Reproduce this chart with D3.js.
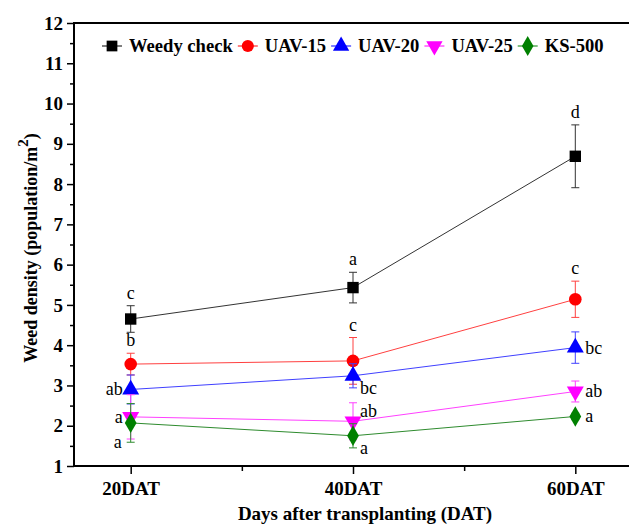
<!DOCTYPE html>
<html>
<head>
<meta charset="utf-8">
<script src="https://cdn.jsdelivr.net/npm/d3@7"></script>
<style>
  body { margin: 0; background: #fff; }
  svg { display: block; }
  text { font-family: "Liberation Serif", "Times New Roman", serif; }
</style>
</head>
<body>
<script>
// data
var days = ["20DAT", "40DAT", "60DAT"];
var seriesNames = ["Weedy check", "UAV-15", "UAV-20", "UAV-25", "KS-500"];
var weedyCheck = [4.65, 5.43, 8.69];
var uav15 = [3.53, 3.61, 5.14];
var uav20 = [2.90, 3.24, 3.94];
var uav25 = [2.22, 2.11, 2.85];
var ks500 = [2.07, 1.75, 2.23];
var weedyErr = [0.33, 0.38, 0.78];
var uav15Err = [0.27, 0.58, 0.45];
var uav20Err = [0.36, 0.30, 0.39];
var uav25Err = [0.55, 0.46, 0.26];
var ks500Err = [0.48, 0.30, 0.08];
var weedyLetters = ["c", "a", "d"];
var uav15Letters = ["b", "c", "c"];
var uav20Letters = ["ab", "bc", "bc"];
var uav25Letters = ["a", "ab", "ab"];
var ks500Letters = ["a", "a", "a"];
var yTicks = [1, 2, 3, 4, 5, 6, 7, 8, 9, 10, 11, 12];

// where each letter sits relative to its point
var letterPlace = [
  ["top", "top", "top"],
  ["top", "top", "top"],
  ["left", "rightLow", "right"],
  ["left", "rightHigh", "right"],
  ["leftLow", "rightLow", "right"]
];

var colors = ["#000000", "#ff0000", "#0000ff", "#ff00ff", "#008000"];
var lineColors = ["#333333", "#ff4040", "#4040ff", "#ff40ff", "#2e8b2e"];
var shapes = [d3.symbolSquare, d3.symbolCircle, d3.symbolTriangle, "down", d3.symbolDiamond];

var series = [
  {name: seriesNames[0], vals: weedyCheck, err: weedyErr, letters: weedyLetters},
  {name: seriesNames[1], vals: uav15, err: uav15Err, letters: uav15Letters},
  {name: seriesNames[2], vals: uav20, err: uav20Err, letters: uav20Letters},
  {name: seriesNames[3], vals: uav25, err: uav25Err, letters: uav25Letters},
  {name: seriesNames[4], vals: ks500, err: ks500Err, letters: ks500Letters}
];

var width = 629, height = 524;
var pLeft = 74, pTop = 23, pRight = 632, pBottom = 466;

var svg = d3.select("body").append("svg")
  .attr("width", width)
  .attr("height", height);

var x = d3.scalePoint()
  .domain(days)
  .range([pLeft, pRight])
  .padding(0.255);

var y = d3.scaleLinear()
  .domain([1, 12])
  .range([pBottom, pTop]);

function symbolPath(i, size) {
  if (shapes[i] === "down") {
    return d3.symbol().type(d3.symbolTriangle).size(size)();
  }
  return d3.symbol().type(shapes[i]).size(size)();
}
function symbolSize(i) {
  return [130, 125, 125, 125, 120][i];
}

// minor ticks
var minorY = d3.range(1.5, 12, 1);
svg.append("g")
  .attr("transform", "translate(" + pLeft + ",0)")
  .call(d3.axisLeft(y).tickValues(minorY).tickSize(4).tickFormat("").tickSizeOuter(0))
  .call(function (g) { g.select(".domain").remove(); })
  .selectAll("line").attr("stroke-width", 1.5);

var step = x.step();
var minorX = [x(days[0]) + step / 2, x(days[1]) + step / 2];
var xLin = d3.scaleLinear().domain([pLeft, pRight]).range([pLeft, pRight]);
svg.append("g")
  .attr("transform", "translate(0," + pBottom + ")")
  .call(d3.axisBottom(xLin).tickValues(minorX).tickSize(5).tickFormat("").tickSizeOuter(0))
  .call(function (g) { g.select(".domain").remove(); })
  .selectAll("line").attr("stroke-width", 1.5);

// major y axis
var yAxis = svg.append("g")
  .attr("transform", "translate(" + pLeft + ",0)")
  .call(d3.axisLeft(y).tickValues(yTicks).tickSize(7).tickPadding(4).tickSizeOuter(0));
yAxis.select(".domain").remove();
yAxis.selectAll("line").attr("stroke-width", 1.5);
yAxis.selectAll("text")
  .attr("font-family", "Liberation Serif")
  .attr("font-weight", "bold")
  .attr("font-size", 19)
  .attr("fill", "#000");

// major x axis
var xAxis = svg.append("g")
  .attr("transform", "translate(0," + pBottom + ")")
  .call(d3.axisBottom(x).tickSize(8).tickPadding(8).tickSizeOuter(0));
xAxis.select(".domain").remove();
xAxis.selectAll("line").attr("stroke-width", 1.5);
xAxis.selectAll("text")
  .attr("font-family", "Liberation Serif")
  .attr("font-weight", "bold")
  .attr("font-size", 19)
  .attr("fill", "#000");

// frame
svg.append("rect")
  .attr("x", pLeft).attr("y", pTop)
  .attr("width", pRight - pLeft).attr("height", pBottom - pTop)
  .attr("fill", "none")
  .attr("stroke", "#000")
  .attr("stroke-width", 2);

// axis titles
svg.append("text")
  .attr("x", 365).attr("y", 520)
  .attr("text-anchor", "middle")
  .attr("font-weight", "bold")
  .attr("font-size", 19)
  .text("Days after transplanting (DAT)");

var yTitle = svg.append("text")
  .attr("transform", "translate(37,248) rotate(-90)")
  .attr("text-anchor", "middle")
  .attr("font-weight", "bold")
  .attr("font-size", 18);
yTitle.append("tspan").text("Weed density (population/m");
yTitle.append("tspan").attr("dy", -9).attr("font-size", 15).text("2");
yTitle.append("tspan").attr("dy", 9).text(")");

var line = d3.line()
  .x(function (d, i) { return x(days[i]); })
  .y(function (d) { return y(d); });

var plot = svg.append("g");

series.forEach(function (s, k) {
  plot.append("path")
    .attr("d", line(s.vals))
    .attr("fill", "none")
    .attr("stroke", lineColors[k])
    .attr("stroke-width", 1);
});

series.forEach(function (s, k) {
  var g = plot.append("g");
  s.vals.forEach(function (v, i) {
    var cx = x(days[i]);
    var hi = y(v + s.err[i]), lo = y(v - s.err[i]);
    g.append("line")
      .attr("x1", cx).attr("x2", cx).attr("y1", hi).attr("y2", lo)
      .attr("stroke", lineColors[k]).attr("stroke-width", 1);
    [hi, lo].forEach(function (yy) {
      g.append("line")
        .attr("x1", cx - 4).attr("x2", cx + 4).attr("y1", yy).attr("y2", yy)
        .attr("stroke", lineColors[k]).attr("stroke-width", 1);
    });
    var rot = shapes[k] === "down" ? " rotate(180)" : "";
    g.append("path")
      .attr("d", symbolPath(k, symbolSize(k)))
      .attr("transform", "translate(" + cx + "," + y(v) + ")" + rot)
      .attr("fill", colors[k]);
  });
});

// significance letters
series.forEach(function (s, k) {
  s.vals.forEach(function (v, i) {
    var cx = x(days[i]);
    var hi = y(v + s.err[i]), lo = y(v - s.err[i]), cy = y(v);
    var p = letterPlace[k][i];
    var tx = cx, ty = cy, anchor = "middle";
    if (p === "top") { ty = hi - 7; }
    else if (p === "left") { tx = cx - 8; ty = cy + 6; anchor = "end"; }
    else if (p === "leftLow") { tx = cx - 9; ty = lo + 6; anchor = "end"; }
    else if (p === "right") { tx = cx + 10; ty = cy + 6; anchor = "start"; }
    else if (p === "rightLow") { tx = cx + 7; ty = lo + 6; anchor = "start"; }
    else if (p === "rightHigh") { tx = cx + 7; ty = (hi + cy) / 2 + 5; anchor = "start"; }
    svg.append("text")
      .attr("x", tx).attr("y", ty)
      .attr("text-anchor", anchor)
      .attr("font-size", 18)
      .text(s.letters[i]);
  });
});

// legend
var lx = 102, ly = 46;
series.forEach(function (s, k) {
  var item = svg.append("g");
  item.append("line")
    .attr("x1", lx).attr("x2", lx + 20).attr("y1", ly).attr("y2", ly)
    .attr("stroke", colors[k]).attr("stroke-width", 1);
  var rot = shapes[k] === "down" ? " rotate(180)" : "";
  item.append("path")
    .attr("d", symbolPath(k, 115))
    .attr("transform", "translate(" + (lx + 10) + "," + ly + ")" + rot)
    .attr("fill", colors[k]);
  var t = item.append("text")
    .attr("x", lx + 27).attr("y", ly + 6)
    .attr("font-weight", "bold")
    .attr("font-size", 18.6)
    .text(s.name);
  lx = lx + 27 + t.node().getComputedTextLength() + 5;
});
</script>
</body>
</html>
